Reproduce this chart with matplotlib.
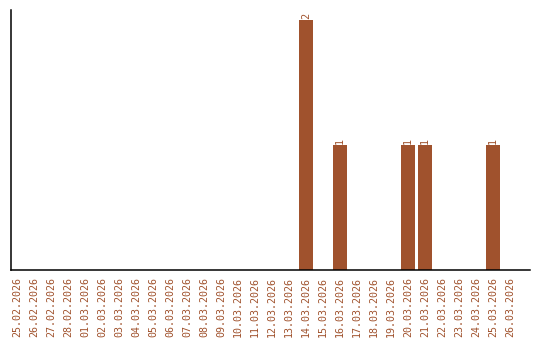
import matplotlib
matplotlib.use("Agg")
import matplotlib.pyplot as plt
import pandas as pd

# daily counts, 25.02.2026 - 26.03.2026
dates = pd.date_range("2026-02-25", "2026-03-26", freq="D")
date_labels = [d.strftime("%d.%m.%Y") for d in dates]
counts = [0] * len(date_labels)
hits = {"14.03.2026": 2, "16.03.2026": 1, "20.03.2026": 1,
        "21.03.2026": 1, "25.03.2026": 1}
for k, v in hits.items():
    counts[date_labels.index(k)] = v

bar_color = "#a0522d"
font = "DejaVu Sans Mono"

fig = plt.figure(figsize=(5.4, 3.4), dpi=100)
ax = fig.add_axes([11 / 540, 70 / 340, 519 / 540, 260 / 340])

x = list(range(len(date_labels)))
ax.bar(x, counts, width=0.82, color=bar_color)

for xi, c in zip(x, counts):
    if c > 0:
        ax.text(xi, c + 0.01, str(c), rotation=90, ha="center", va="bottom",
                fontsize=7.3, color=bar_color, family=font)

ax.set_xlim(-0.35, len(date_labels) - 1 + 1.18)
ax.set_ylim(0, 2.08)
ax.set_xticks(x)
ax.set_xticklabels(date_labels, rotation=90, fontsize=7.2, color=bar_color, family=font)
ax.tick_params(axis="x", length=0, pad=5)
ax.set_yticks([])
ax.spines["top"].set_visible(False)
ax.spines["right"].set_visible(False)
for s in ("left", "bottom"):
    ax.spines[s].set_linewidth(1.1)

fig.savefig("out.png", dpi=100)
